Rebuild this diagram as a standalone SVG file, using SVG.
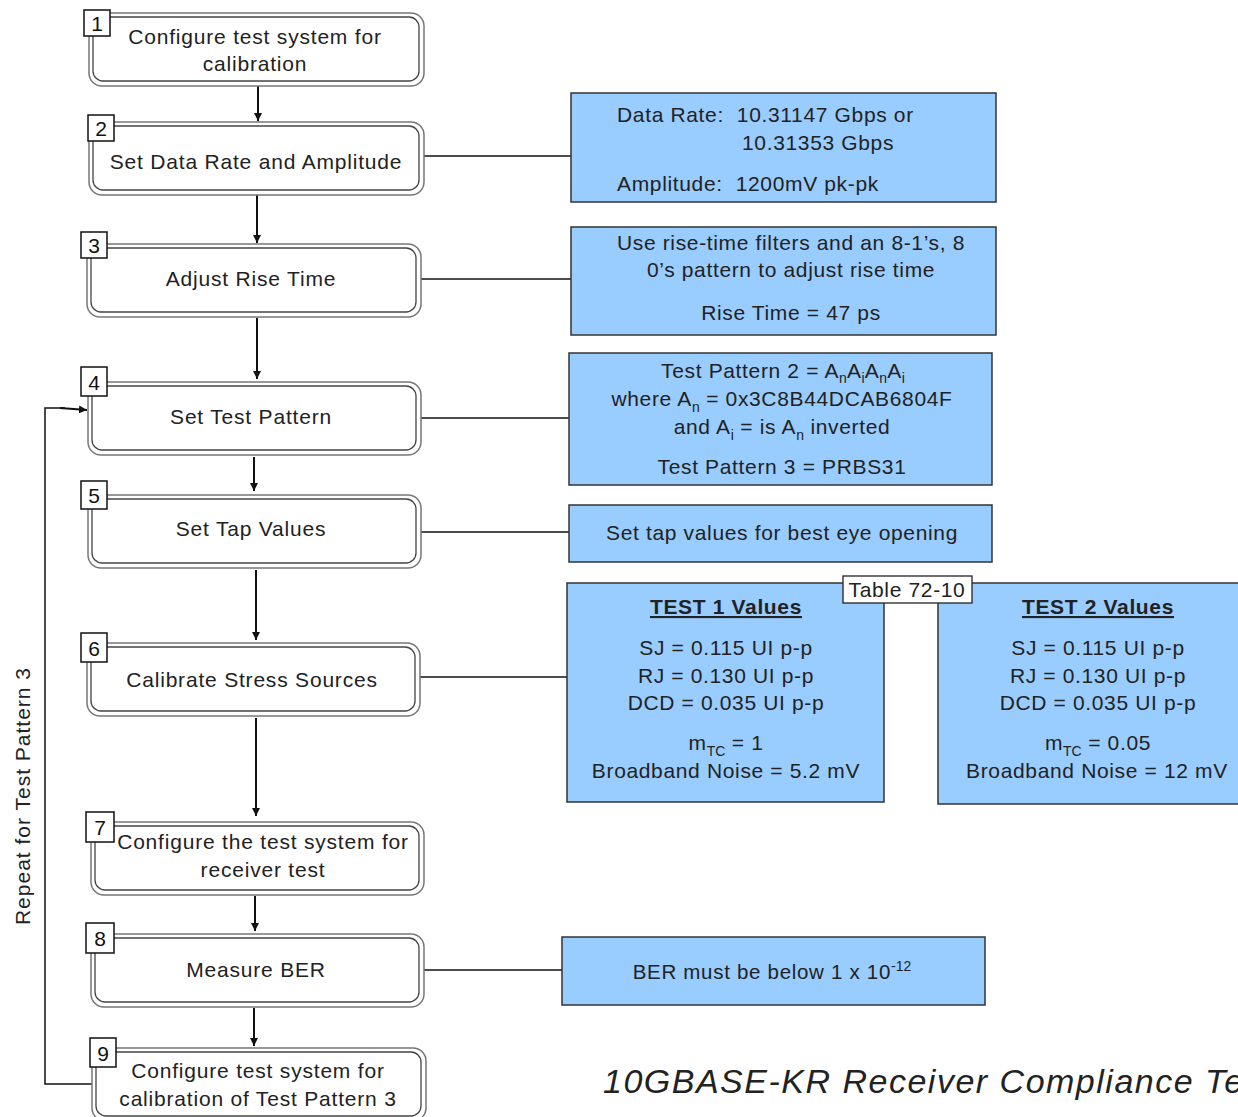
<svg xmlns="http://www.w3.org/2000/svg" width="1238" height="1117" viewBox="0 0 1238 1117">
<defs>
<marker id="arr" viewBox="0 0 10 10" refX="10" refY="5" markerWidth="8" markerHeight="8" markerUnits="userSpaceOnUse" orient="auto">
<path d="M0,0 L10,5 L0,10 z" fill="#111"/>
</marker>
<style>
text{font-family:"Liberation Sans",Arial,sans-serif;fill:#222;white-space:pre;}
.nt{font-size:21px;letter-spacing:0.8px;text-anchor:middle;}
.num{font-size:21px;text-anchor:middle;fill:#111;}
.nb{fill:#fff;stroke:#111;stroke-width:1.5;}
.o{fill:#fff;stroke:#777;stroke-width:1.5;}
.i{fill:none;stroke:#444;stroke-width:1.3;}
.bx{fill:#99ccff;stroke:#333;stroke-width:1.5;}
.bt{font-size:21px;letter-spacing:0.65px;}
.c{text-anchor:middle;}
.ln{fill:none;stroke:#111;stroke-width:1.5;}
.ar{fill:none;stroke:#111;stroke-width:2;marker-end:url(#arr);}
.sub{font-size:14px;letter-spacing:0;}
</style>
</defs>
<rect width="1238" height="1117" fill="#fff"/>

<g id="connectors">
<line class="ar" x1="258" y1="86" x2="258" y2="121"/>
<line class="ar" x1="257" y1="195" x2="257" y2="243"/>
<line class="ar" x1="257" y1="318" x2="257" y2="379"/>
<line class="ar" x1="254" y1="457" x2="254" y2="491"/>
<line class="ar" x1="256" y1="570" x2="256" y2="640"/>
<line class="ar" x1="256" y1="718" x2="256" y2="816"/>
<line class="ar" x1="255" y1="896" x2="255" y2="931"/>
<line class="ar" x1="254" y1="1008" x2="254" y2="1046"/>
<polyline class="ln" points="93,1084 45,1084 45,408 65,408"/>
<line class="ar" x1="60" y1="408" x2="87" y2="410"/>
<line class="ln" x1="424" y1="156" x2="571" y2="156"/>
<line class="ln" x1="421" y1="279" x2="571" y2="279"/>
<line class="ln" x1="421" y1="418" x2="569" y2="418"/>
<line class="ln" x1="421" y1="532" x2="569" y2="532"/>
<line class="ln" x1="420" y1="677" x2="567" y2="677"/>
<line class="ln" x1="424" y1="970" x2="562" y2="970"/>
</g>

<text transform="translate(30,796) rotate(-90)" font-size="21" letter-spacing="1" text-anchor="middle">Repeat for Test Pattern 3</text>

<g id="n1">
<rect class="o" x="89" y="13" width="335" height="73" rx="13"/>
<rect class="i" x="93" y="17" width="326" height="64" rx="10"/>
<rect class="nb" x="84" y="10" width="26" height="26"/>
<text class="num" x="97" y="31">1</text>
<text class="nt" x="255" y="44">Configure test system for</text>
<text class="nt" x="255" y="71">calibration</text>
</g>
<g id="n2">
<rect class="o" x="89" y="122" width="335" height="73" rx="13"/>
<rect class="i" x="93" y="126" width="326" height="64" rx="10"/>
<rect class="nb" x="88" y="115" width="26" height="26"/>
<text class="num" x="101" y="136">2</text>
<text class="nt" x="256" y="169">Set Data Rate and Amplitude</text>
</g>
<g id="n3">
<rect class="o" x="87" y="244" width="334" height="73" rx="13"/>
<rect class="i" x="91" y="248" width="325" height="64" rx="10"/>
<rect class="nb" x="81" y="232" width="26" height="26"/>
<text class="num" x="94" y="253">3</text>
<text class="nt" x="251" y="286">Adjust Rise Time</text>
</g>
<g id="n4">
<rect class="o" x="88" y="382" width="333" height="73" rx="13"/>
<rect class="i" x="92" y="386" width="324" height="64" rx="10"/>
<rect class="nb" x="81" y="367" width="26" height="29"/>
<text class="num" x="94" y="390">4</text>
<text class="nt" x="251" y="424">Set Test Pattern</text>
</g>
<g id="n5">
<rect class="o" x="88" y="495" width="333" height="73" rx="13"/>
<rect class="i" x="92" y="499" width="324" height="64" rx="10"/>
<rect class="nb" x="81" y="481" width="26" height="28"/>
<text class="num" x="94" y="503">5</text>
<text class="nt" x="251" y="536">Set Tap Values</text>
</g>
<g id="n6">
<rect class="o" x="87" y="643" width="333" height="73" rx="13"/>
<rect class="i" x="91" y="647" width="324" height="64" rx="10"/>
<rect class="nb" x="81" y="633" width="26" height="29"/>
<text class="num" x="94" y="656">6</text>
<text class="nt" x="252" y="687">Calibrate Stress Sources</text>
</g>
<g id="n7">
<rect class="o" x="91" y="822" width="333" height="73" rx="13"/>
<rect class="i" x="95" y="826" width="324" height="64" rx="10"/>
<rect class="nb" x="86" y="812" width="28" height="30"/>
<text class="num" x="100" y="835">7</text>
<text class="nt" x="263" y="849">Configure the test system for</text>
<text class="nt" x="263" y="877">receiver test</text>
</g>
<g id="n8">
<rect class="o" x="91" y="934" width="333" height="73" rx="13"/>
<rect class="i" x="95" y="938" width="324" height="64" rx="10"/>
<rect class="nb" x="86" y="923" width="28" height="30"/>
<text class="num" x="100" y="946">8</text>
<text class="nt" x="256" y="977">Measure BER</text>
</g>
<g id="n9">
<rect class="o" x="92" y="1048" width="334" height="73" rx="13"/>
<rect class="i" x="96" y="1052" width="325" height="64" rx="10"/>
<rect class="nb" x="90" y="1038" width="26" height="29"/>
<text class="num" x="103" y="1061">9</text>
<text class="nt" x="258" y="1078">Configure test system for</text>
<text class="nt" x="258" y="1106">calibration of Test Pattern 3</text>
</g>

<g id="bA">
<rect class="bx" x="571" y="93" width="425" height="109"/>
<text class="bt" x="617" y="122">Data Rate:  10.31147 Gbps or</text>
<text class="bt" x="742" y="150">10.31353 Gbps</text>
<text class="bt" x="617" y="191">Amplitude:  1200mV pk-pk</text>
</g>
<g id="bB">
<rect class="bx" x="571" y="227" width="425" height="108"/>
<text class="bt c" x="791" y="250">Use rise-time filters and an 8-1’s, 8</text>
<text class="bt c" x="791" y="277">0’s pattern to adjust rise time</text>
<text class="bt c" x="791" y="320">Rise Time = 47 ps</text>
</g>
<g id="bC">
<rect class="bx" x="569" y="353" width="423" height="132"/>
<text class="bt c" x="783" y="378">Test Pattern 2 = A<tspan class="sub" dy="5">n</tspan><tspan dy="-5">A</tspan><tspan class="sub" dy="5">i</tspan><tspan dy="-5">A</tspan><tspan class="sub" dy="5">n</tspan><tspan dy="-5">A</tspan><tspan class="sub" dy="5">i</tspan></text>
<text class="bt c" x="782" y="406">where A<tspan class="sub" dy="6">n</tspan><tspan dy="-6"> = 0x3C8B44DCAB6804F</tspan></text>
<text class="bt c" x="782" y="434">and A<tspan class="sub" dy="6">i</tspan><tspan dy="-6"> = is A</tspan><tspan class="sub" dy="6">n</tspan><tspan dy="-6"> inverted</tspan></text>
<text class="bt c" x="782" y="474">Test Pattern 3 = PRBS31</text>
</g>
<g id="bD">
<rect class="bx" x="569" y="505" width="423" height="57"/>
<text class="bt c" x="782" y="540">Set tap values for best eye opening</text>
</g>
<g id="bE">
<rect class="bx" x="567" y="583" width="317" height="219"/>
<text class="bt c" x="726" y="614" font-weight="bold" text-decoration="underline">TEST 1 Values</text>
<text class="bt c" x="726" y="655">SJ = 0.115 UI p-p</text>
<text class="bt c" x="726" y="683">RJ = 0.130 UI p-p</text>
<text class="bt c" x="726" y="710">DCD = 0.035 UI p-p</text>
<text class="bt c" x="726" y="750">m<tspan class="sub" dy="6">TC</tspan><tspan dy="-6"> = 1</tspan></text>
<text class="bt c" x="726" y="778">Broadband Noise = 5.2 mV</text>
</g>
<g id="bF">
<rect class="bx" x="938" y="583" width="310" height="221"/>
<text class="bt c" x="1098" y="614" font-weight="bold" text-decoration="underline">TEST 2 Values</text>
<text class="bt c" x="1098" y="655">SJ = 0.115 UI p-p</text>
<text class="bt c" x="1098" y="683">RJ = 0.130 UI p-p</text>
<text class="bt c" x="1098" y="710">DCD = 0.035 UI p-p</text>
<text class="bt c" x="1098" y="750">m<tspan class="sub" dy="6">TC</tspan><tspan dy="-6"> = 0.05</tspan></text>
<text class="bt c" x="1097" y="778">Broadband Noise = 12 mV</text>
</g>
<g id="tbl">
<rect x="843" y="576" width="129" height="27" fill="#fff" stroke="#222" stroke-width="1.3"/>
<text class="bt c" x="907" y="597">Table 72-10</text>
</g>
<g id="bG">
<rect class="bx" x="562" y="937" width="423" height="68"/>
<text class="c" font-size="20.5" letter-spacing="0.7" x="772" y="979">BER must be below 1 x 10<tspan font-size="14" letter-spacing="0" dy="-8">-12</tspan></text>
</g>

<text x="603" y="1093" font-size="34" letter-spacing="1.5" font-style="italic">10GBASE-KR Receiver Compliance Test</text>
</svg>
